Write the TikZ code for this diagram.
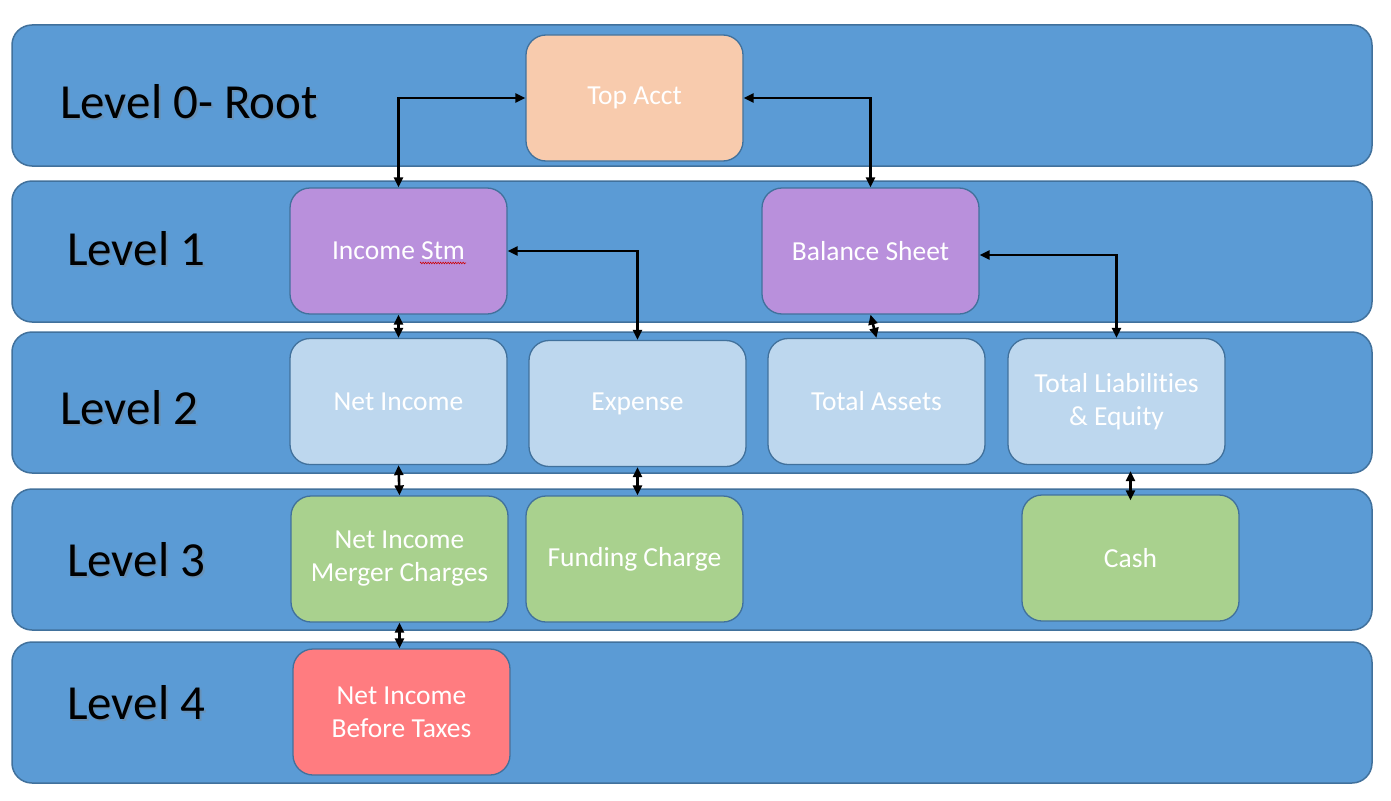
\documentclass[tikz,border=0pt]{standalone}
\usepackage{fontspec}
\setmainfont{Carlito}[Ligatures=NoCommon]
\usetikzlibrary{calc,arrows.meta,decorations.pathmorphing}
\definecolor{bandfill}{HTML}{5B9BD5}
\definecolor{bandline}{HTML}{41719C}
\definecolor{peach}{HTML}{F8CBAD}
\definecolor{purp}{HTML}{B990DC}
\definecolor{lblue}{HTML}{BDD7EE}
\definecolor{lgreen}{HTML}{A9D18E}
\definecolor{salmon}{HTML}{FF7C80}
\tikzset{
  band/.style={draw=bandline, line width=1.5pt, fill=bandfill, rounded corners=20pt},
  acct/.style={draw=bandline, line width=1.3pt, rounded corners=20pt, minimum width=217pt, minimum height=126pt, inner sep=0pt, align=center, text=white, font=\fontsize{27.5}{33}\selectfont},
  lvl/.style={anchor=west, inner sep=0pt, font=\fontsize{49}{55}\selectfont},
  conn/.style={line width=2.6pt, {Triangle[length=10pt,width=9pt]}-{Triangle[length=10pt,width=9pt]}}
}
\newcommand{\lvltext}[3]{%
  \node[lvl, text=black!50, opacity=0.35] at ($(#1)+(2,2)$) {#3};
  \node[lvl] (#2) at (#1) {#3};}
\begin{document}
\begin{tikzpicture}[x=1pt,y=-1pt]
\fill[white] (0,0) rectangle (1391,800);
\useasboundingbox (0,0) rectangle (1391,800);
% bands
\draw[band] (12,25) rectangle (1372,166);
\draw[band] (12,181) rectangle (1372,322);
\draw[band] (12,332) rectangle (1372,473);
\draw[band] (12,489) rectangle (1372,630);
\draw[band] (12,642) rectangle (1372,783);
% level labels
\coordinate (p0) at (60,102);
\coordinate (p1) at (67,249);
\coordinate (p2) at (60,408);
\coordinate (p3) at (67,560);
\coordinate (p4) at (67,703);
\lvltext{p0}{l0}{Level 0- Root}
\lvltext{p1}{l1}{Level 1}
\lvltext{p2}{l2}{Level 2}
\lvltext{p3}{l3}{Level 3}
\lvltext{p4}{l4}{Level 4}
% boxes
\node[acct, fill=peach] (top) at (634.5,98) {Top Acct};
\node[acct, fill=purp] (inc) at (398.5,251) {Income Stm};
\node[acct, fill=purp] (bal) at (870.5,251) {Balance Sheet};
\node[acct, fill=lblue] (ni) at (398.5,401.5) {Net Income};
\node[acct, fill=lblue] (exp) at (637.5,403.5) {Expense};
\node[acct, fill=lblue] (ta) at (876.5,401.5) {Total Assets};
\node[acct, fill=lblue] (tle) at (1116.5,401.5) {Total Liabilities\\\& Equity};
\node[acct, fill=lgreen] (nimc) at (399.5,559) {Net Income\\Merger Charges};
\node[acct, fill=lgreen] (fc) at (634.5,559) {Funding Charge};
\node[acct, fill=lgreen] (cash) at (1130.5,558) {Cash};
\node[acct, fill=salmon] (nibt) at (401.5,712) {Net Income\\Before Taxes};
% spell-check squiggle under "Stm"
\coordinate (sq1) at (420,263);
\coordinate (sq2) at (466,263);
\draw[red!80!black, line width=0.6pt, decorate, decoration={zigzag, amplitude=0.8pt, segment length=2.5pt}] (sq1) -- (sq2);
% connectors
\draw[conn] (top.west) -| (inc.north);
\draw[conn] (top.east) -| (bal.north);
\draw[conn] (inc.east) -| (exp.north);
\draw[conn] ($(bal.east)+(0,4)$) -| (tle.north);
\draw[conn] (inc.south) -- (ni.north);
\draw[conn] (bal.south) -- (ta.north);
\draw[conn] (ni.south) -- (nimc.north);
\draw[conn] (exp.south) -- (exp.south |- fc.north);
\draw[conn] ($(tle.south -| cash.north)+(0,6)$) -- ($(cash.north)+(0,6)$);
\draw[conn] (nimc.south) -- (nimc.south |- nibt.north);
\end{tikzpicture}
\end{document}
